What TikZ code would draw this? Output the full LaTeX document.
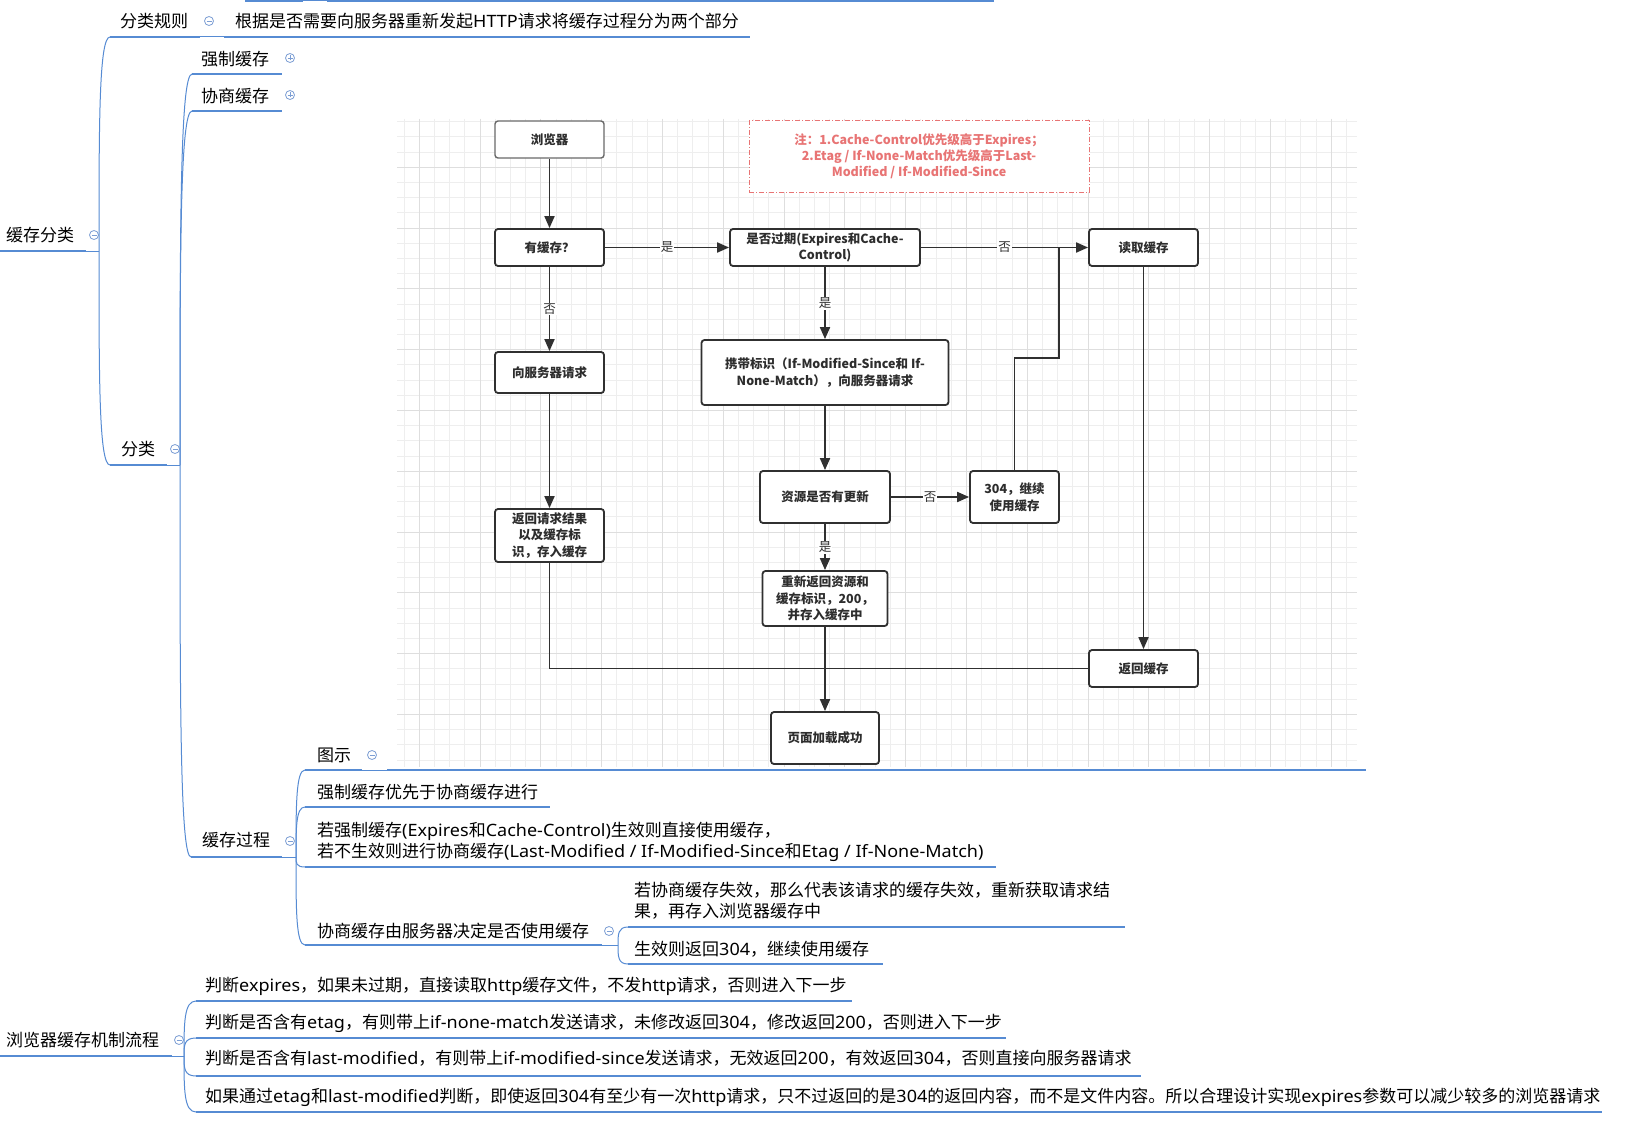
\documentclass[tikz,border=0pt]{standalone}
\usepackage{fontspec}
\setmainfont{Noto Sans CJK SC}
\newfontfamily\latinfont{Noto Sans}[FakeStretch=1.06]
\newcommand\Lat[1]{{\latinfont #1}}
\usetikzlibrary{arrows.meta,calc}

\definecolor{mmblue}{RGB}{86,139,211}
\definecolor{mmicon}{RGB}{124,158,212}
\definecolor{fcline}{RGB}{48,48,48}
\definecolor{fcgray}{RGB}{105,105,105}
\definecolor{fctext}{RGB}{45,45,45}
\definecolor{notered}{RGB}{232,116,116}
\definecolor{gridminor}{RGB}{238,238,238}
\definecolor{gridmajor}{RGB}{222,222,222}

\tikzset{
  mmtext/.style={anchor=base west, inner sep=0pt, font=\fontsize{17}{21}\selectfont, text=black},
  mmline/.style={draw=mmblue, line width=2.8pt},
  mmthin/.style={draw=mmblue, line width=1pt},
  mmbtn/.style={circle, draw=mmicon, line width=0.8pt, minimum size=9pt, inner sep=0pt, fill=white},
  mmcollapse/.style={mmbtn, path picture={\draw[mmicon, line width=0.8pt]
      ([xshift=-2.5pt]path picture bounding box.center) -- ([xshift=2.5pt]path picture bounding box.center);}},
  mmexpand/.style={mmbtn, path picture={\draw[mmicon, line width=0.8pt]
      ([xshift=-2.5pt]path picture bounding box.center) -- ([xshift=2.5pt]path picture bounding box.center)
      ([yshift=-2.5pt]path picture bounding box.center) -- ([yshift=2.5pt]path picture bounding box.center);}},
  fcbox/.style={draw=fcline, line width=1.8pt, rounded corners=3pt, fill=white, align=center,
      inner sep=0pt, text=fctext, font=\fontsize{12.5}{16.5}\selectfont\bfseries},
  fcedge/.style={draw=fcline, line width=1.8pt},
  fcarrow/.style={fcedge, -{Triangle[length=12pt,width=10pt]}},
  fclabel/.style={fill=white, inner sep=1pt, text=fcline, font=\fontsize{12.5}{15}\selectfont},
  notebox/.style={draw=notered, line width=1pt, dash pattern=on 5pt off 2pt on 1pt off 2pt,
      fill=white, align=center, inner sep=0pt, text=notered, font=\fontsize{12.5}{16}\selectfont\bfseries},
}

% curved mind-map connector from a branch point to a child's underline start
\newcommand\mmlink[2]{\draw[mmthin] (#1) .. controls ($(#1)!0.6!(#1 |- #2)$) and (#1 |- #2) .. (#2);}

\begin{document}
\begin{tikzpicture}[x=1pt,y=-1pt]
\useasboundingbox (0,0) rectangle (1639,1121);
\fill[white] (0,0) rectangle (1639,1121);

% ---------- flowchart figure: grid background ----------
\begin{scope}
  \clip (397,119) rectangle (1357,767);
  \foreach \k in {-46,...,18}
    \draw[gridminor, line width=0.7pt] ({1088+15.2*\k},119) -- ({1088+15.2*\k},767);
  \foreach \k in {-8,...,36}
    \draw[gridminor, line width=0.7pt] (397,{228+15.2*\k}) -- (1357,{228+15.2*\k});
  \foreach \k in {-12,...,4}
    \draw[gridmajor, line width=0.8pt] ({1088+60.8*\k},119) -- ({1088+60.8*\k},767);
  \foreach \k in {-2,...,9}
    \draw[gridmajor, line width=0.8pt] (397,{228+60.8*\k}) -- (1357,{228+60.8*\k});
\end{scope}

% ---------- flowchart boxes ----------
\node[fcbox, draw=fcgray, line width=1.4pt, minimum width=109pt, minimum height=37pt] (browser) at (549.5,139.5) {浏览器};
\node[fcbox, minimum width=109pt, minimum height=37pt] (hascache) at (549.5,247.5) {有缓存？};
\node[fcbox, minimum width=109pt, minimum height=41pt] (askserver) at (549.5,372.5) {向服务器请求};
\node[fcbox, minimum width=109pt, minimum height=53pt] (storeresult) at (549.5,535.5) {返回请求结果\\以及缓存标\\识，存入缓存};
\node[fcbox, minimum width=190pt, minimum height=37pt] (expired) at (825,247.5) {是否过期(Expires和Cache-\\Control)};
\node[fcbox, minimum width=247pt, minimum height=65pt] (withtag) at (825,372.5) {携带标识（If-Modified-Since和 If-\\None-Match），向服务器请求};
\node[fcbox, minimum width=130pt, minimum height=52pt] (updated) at (825,497) {资源是否有更新};
\node[fcbox, minimum width=125pt, minimum height=55pt] (resend) at (825,598.5) {重新返回资源和\\缓存标识，200，\\并存入缓存中};
\node[fcbox, minimum width=108pt, minimum height=52pt] (loaded) at (825,738) {页面加载成功};
\node[fcbox, minimum width=89pt, minimum height=52pt] (notmod) at (1014.5,497) {304，继续\\使用缓存};
\node[fcbox, minimum width=109pt, minimum height=37pt] (readcache) at (1143.5,247.5) {读取缓存};
\node[fcbox, minimum width=109pt, minimum height=37pt] (retcache) at (1143.5,668.5) {返回缓存};
\node[notebox, minimum width=340pt, minimum height=71pt] (note) at (919,156.5)
  {注：1.Cache-Control优先级高于Expires；\\2.Etag / If-None-Match优先级高于Last-\\Modified / If-Modified-Since};

% ---------- flowchart connectors ----------
\coordinate (upA) at (1014.5,358);
\coordinate (upB) at (1059,358);
\coordinate (upC) at (1059,247.5);
\draw[fcarrow] (browser) -- (hascache);
\draw[fcarrow] (hascache) -- node[fclabel] {是} (expired);
\draw[fcarrow] (hascache) -- node[fclabel] {否} (askserver);
\draw[fcarrow] (expired) -- node[fclabel] {否} (readcache);
\draw[fcarrow] (expired) -- node[fclabel] {是} (withtag);
\draw[fcarrow] (askserver) -- (storeresult);
\draw[fcarrow] (withtag) -- (updated);
\draw[fcarrow] (updated) -- node[fclabel] {否} (notmod);
\draw[fcarrow] (updated) -- node[fclabel] {是} (resend);
\draw[fcedge] (notmod.north) -- (upA) -- (upB) -- (upC);
\draw[fcarrow] (readcache) -- (retcache);
\draw[fcedge] (storeresult.south) |- (retcache.west);
\draw[fcarrow] (resend) -- (loaded);

% ---------- mind map ----------
% fragment of a branch above
\coordinate (topA) at (245,1); \coordinate (topB) at (303,1);
\coordinate (topC) at (327,1); \coordinate (topD) at (994,1);
\draw[mmline] (topA) -- (topB); \draw[mmthin] (topB) -- (topC); \draw[mmline] (topC) -- (topD);

% 缓存分类
\node[mmtext] (hc) at (6,241.5) {缓存分类};
\coordinate (hcL) at (0,251); \coordinate (hcR) at (86,251); \coordinate (hcB) at (99,251);
\draw[mmline] (hcL) -- (hcR); \draw[mmthin] (hcR) -- (hcB);
\node[mmcollapse] (hcBtn) at (94,235) {};

% 分类规则
\node[mmtext] (rule) at (120,27.5) {分类规则};
\coordinate (ruleL) at (110,37); \coordinate (ruleR) at (200,37); \coordinate (ruleB) at (224,37);
\draw[mmline] (ruleL) -- (ruleR); \draw[mmthin] (ruleR) -- (ruleB);
\node[mmcollapse] (ruleBtn) at (209,21) {};
\node[mmtext] (ruleTxt) at (235,27.5) {根据是否需要向服务器重新发起\Lat{HTTP}请求将缓存过程分为两个部分};
\coordinate (ruleTxtR) at (750,37);
\draw[mmline] (ruleB) -- (ruleTxtR);
\mmlink{hcB}{ruleL}

% 分类
\node[mmtext] (cls) at (121,455.5) {分类};
\coordinate (clsL) at (110,465); \coordinate (clsR) at (167,465); \coordinate (clsB) at (180,465);
\draw[mmline] (clsL) -- (clsR); \draw[mmthin] (clsR) -- (clsB);
\node[mmcollapse] (clsBtn) at (175,449) {};
\mmlink{hcB}{clsL}

% 强制缓存 / 协商缓存
\node[mmtext] (strong) at (201,65.5) {强制缓存};
\coordinate (strongL) at (192,74); \coordinate (strongR) at (282,74);
\draw[mmline] (strongL) -- (strongR);
\node[mmexpand] (strongBtn) at (290,58) {};
\mmlink{clsB}{strongL}

\node[mmtext] (nego) at (201,102.5) {协商缓存};
\coordinate (negoL) at (192,111); \coordinate (negoR) at (282,111);
\draw[mmline] (negoL) -- (negoR);
\node[mmexpand] (negoBtn) at (290,95) {};
\mmlink{clsB}{negoL}

% 缓存过程
\node[mmtext] (proc) at (202,846.5) {缓存过程};
\coordinate (procL) at (191,857); \coordinate (procR) at (282,857); \coordinate (procB) at (296,857);
\draw[mmline] (procL) -- (procR); \draw[mmthin] (procR) -- (procB);
\node[mmcollapse] (procBtn) at (290,841) {};
\mmlink{clsB}{procL}

% 图示
\node[mmtext] (fig) at (317,761.5) {图示};
\coordinate (figL) at (305,770); \coordinate (figR) at (362,770); \coordinate (figB) at (387,770);
\coordinate (imgR) at (1366,770);
\draw[mmline] (figL) -- (figR); \draw[mmthin] (figR) -- (figB); \draw[mmline] (figB) -- (imgR);
\node[mmcollapse] (figBtn) at (372,755) {};
\mmlink{procB}{figL}

% 强制缓存优先于协商缓存进行
\node[mmtext] (prio) at (317,798.5) {强制缓存优先于协商缓存进行};
\coordinate (prioL) at (305,807); \coordinate (prioR) at (550,807);
\draw[mmline] (prioL) -- (prioR);
\mmlink{procB}{prioL}

% 若强制缓存...
\node[mmtext] (ifA) at (317,836.5) {若强制缓存\Lat{(Expires}和\Lat{Cache-Control)}生效则直接使用缓存，};
\node[mmtext] (ifB) at (317,857.5) {若不生效则进行协商缓存\Lat{(Last-Modified / If-Modified-Since}和\Lat{Etag / If-None-Match)}};
\coordinate (ifL) at (305,867); \coordinate (ifR) at (996,867);
\draw[mmline] (ifL) -- (ifR);
\mmlink{procB}{ifL}

% 协商缓存由服务器决定是否使用缓存
\node[mmtext] (srv) at (317,937.5) {协商缓存由服务器决定是否使用缓存};
\coordinate (srvL) at (305,945); \coordinate (srvR) at (602,945); \coordinate (srvB) at (618,945);
\draw[mmline] (srvL) -- (srvR); \draw[mmthin] (srvR) -- (srvB);
\node[mmcollapse] (srvBtn) at (609,931) {};
\mmlink{procB}{srvL}

\node[mmtext] (failA) at (634,896.5) {若协商缓存失效，那么代表该请求的缓存失效，重新获取请求结};
\node[mmtext] (failB) at (634,917.5) {果，再存入浏览器缓存中};
\coordinate (failL) at (628,927); \coordinate (failR) at (1125,927);
\draw[mmline] (failL) -- (failR);
\mmlink{srvB}{failL}

\node[mmtext] (ok) at (634,955.5) {生效则返回\Lat{304}，继续使用缓存};
\coordinate (okL) at (628,964); \coordinate (okR) at (883,964);
\draw[mmline] (okL) -- (okR);
\mmlink{srvB}{okL}

% 浏览器缓存机制流程
\node[mmtext] (flow) at (6,1046.5) {浏览器缓存机制流程};
\coordinate (flowL) at (0,1056); \coordinate (flowR) at (172,1056); \coordinate (flowB) at (184,1056);
\draw[mmline] (flowL) -- (flowR); \draw[mmthin] (flowR) -- (flowB);
\node[mmcollapse] (flowBtn) at (179,1040) {};

\node[mmtext] (stepA) at (205,991.5) {判断\Lat{expires}，如果未过期，直接读取\Lat{http}缓存文件，不发\Lat{http}请求，否则进入下一步};
\coordinate (stepAL) at (196,1001); \coordinate (stepAR) at (852,1001);
\draw[mmline] (stepAL) -- (stepAR);
\mmlink{flowB}{stepAL}

\node[mmtext] (stepB) at (205,1028.5) {判断是否含有\Lat{etag}，有则带上\Lat{if-none-match}发送请求，未修改返回\Lat{304}，修改返回\Lat{200}，否则进入下一步};
\coordinate (stepBL) at (196,1038); \coordinate (stepBR) at (1006,1038);
\draw[mmline] (stepBL) -- (stepBR);
\mmlink{flowB}{stepBL}

\node[mmtext] (stepC) at (205,1064.5) {判断是否含有\Lat{last-modified}，有则带上\Lat{if-modified-since}发送请求，无效返回\Lat{200}，有效返回\Lat{304}，否则直接向服务器请求};
\coordinate (stepCL) at (196,1076); \coordinate (stepCR) at (1141,1076);
\draw[mmline] (stepCL) -- (stepCR);
\mmlink{flowB}{stepCL}

\node[mmtext] (stepD) at (205,1102.5) {如果通过\Lat{etag}和\Lat{last-modified}判断，即使返回\Lat{304}有至少有一次\Lat{http}请求，只不过返回的是\Lat{304}的返回内容，而不是文件内容。所以合理设计实现\Lat{expires}参数可以减少较多的浏览器请求};
\coordinate (stepDL) at (196,1112); \coordinate (stepDR) at (1602,1112);
\draw[mmline] (stepDL) -- (stepDR);
\mmlink{flowB}{stepDL}

\end{tikzpicture}
\end{document}
